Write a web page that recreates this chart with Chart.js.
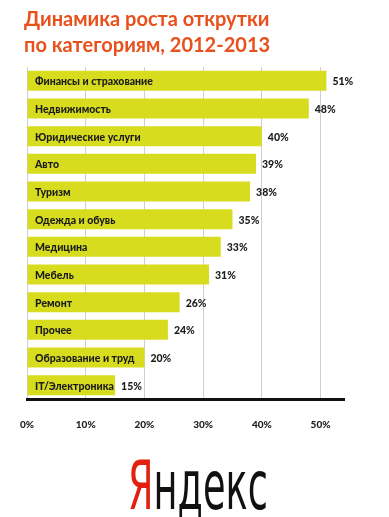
<!DOCTYPE html>
<html>
<head>
<meta charset="utf-8">
<script src="https://cdn.jsdelivr.net/npm/chart.js@4/dist/chart.umd.min.js"></script>
<style>
  body { margin: 0; background: #fff; }
  #wrap { position: relative; width: 389px; height: 517px; overflow: hidden; }
  #box { position: absolute; left: 0; top: 0; width: 389px; height: 451px; }
  #logo {
    position: absolute; left: 128px; top: 452px;
    font-family: "Liberation Sans Narrow", "DejaVu Sans Condensed", sans-serif;
    font-size: 68px; line-height: 68px; color: #111;
    transform-origin: left top; transform: scaleX(0.6);
    white-space: nowrap;
  }
  #logo span { color: #e3200f; }
</style>
</head>
<body>
<div id="wrap">
  <div id="box"><canvas id="chart"></canvas></div>
  <div id="logo"><span>Я</span>ндекс</div>
</div>
<script>
console.log("chart loaded")

// data
var categories = ["Финансы и страхование", "Недвижимость", "Юридические услуги", "Авто",
  "Туризм", "Одежда и обувь", "Медицина", "Мебель", "Ремонт", "Прочее",
  "Образование и труд", "IT/Электроника"];
var growth = [51, 48, 40, 39, 38, 35, 33, 31, 26, 24, 20, 15];
var titleLines = ["Динамика роста открутки", "по категориям, 2012-2013"];

var barColor = "#d8dc1e";
var font = "Lato, sans-serif";

// labels inside bars + values after them
var barLabels = {
  id: "barLabels",
  afterDatasetsDraw: function(chart) {
    var ctx = chart.ctx;
    var meta = chart.getDatasetMeta(0);
    var left = chart.chartArea.left;
    ctx.save();
    ctx.textBaseline = "middle";
    ctx.fillStyle = "#1b1b1b";
    ctx.font = "900 10.5px " + font;
    ctx.textAlign = "left";
    meta.data.forEach(function(bar, i) {
      ctx.fillText(categories[i], left + 8, bar.y + 1);
      ctx.fillText(growth[i] + "%", bar.x + 6, bar.y + 1);
    });
    ctx.restore();
  }
};

new Chart(document.getElementById("chart"), {
  type: "bar",
  data: {
    labels: categories,
    datasets: [{
      data: growth,
      backgroundColor: barColor,
      barPercentage: 0.72,
      categoryPercentage: 1
    }]
  },
  options: {
    indexAxis: "y",
    responsive: true,
    maintainAspectRatio: false,
    animation: false,
    layout: { padding: { left: 24, right: 45, top: 7, bottom: 0 } },
    plugins: {
      legend: { display: false },
      tooltip: { enabled: false },
      title: {
        display: true,
        text: titleLines,
        align: "start",
        color: "#e8501c",
        font: { family: font, size: 20, weight: "bold", lineHeight: 1.3 },
        padding: { top: 0, bottom: 8 }
      }
    },
    scales: {
      x: {
        min: 0,
        max: 54,
        grid: { color: "#cfcfcf", drawTicks: false },
        border: { color: "#111", width: 3 },
        ticks: {
          stepSize: 10,
          includeBounds: false,
          padding: 20,
          color: "#222",
          font: { family: font, size: 10, weight: "900" },
          callback: function(v) { return v + "%"; }
        }
      },
      y: { display: false }
    }
  },
  plugins: [barLabels]
});
</script>
</body>
</html>
